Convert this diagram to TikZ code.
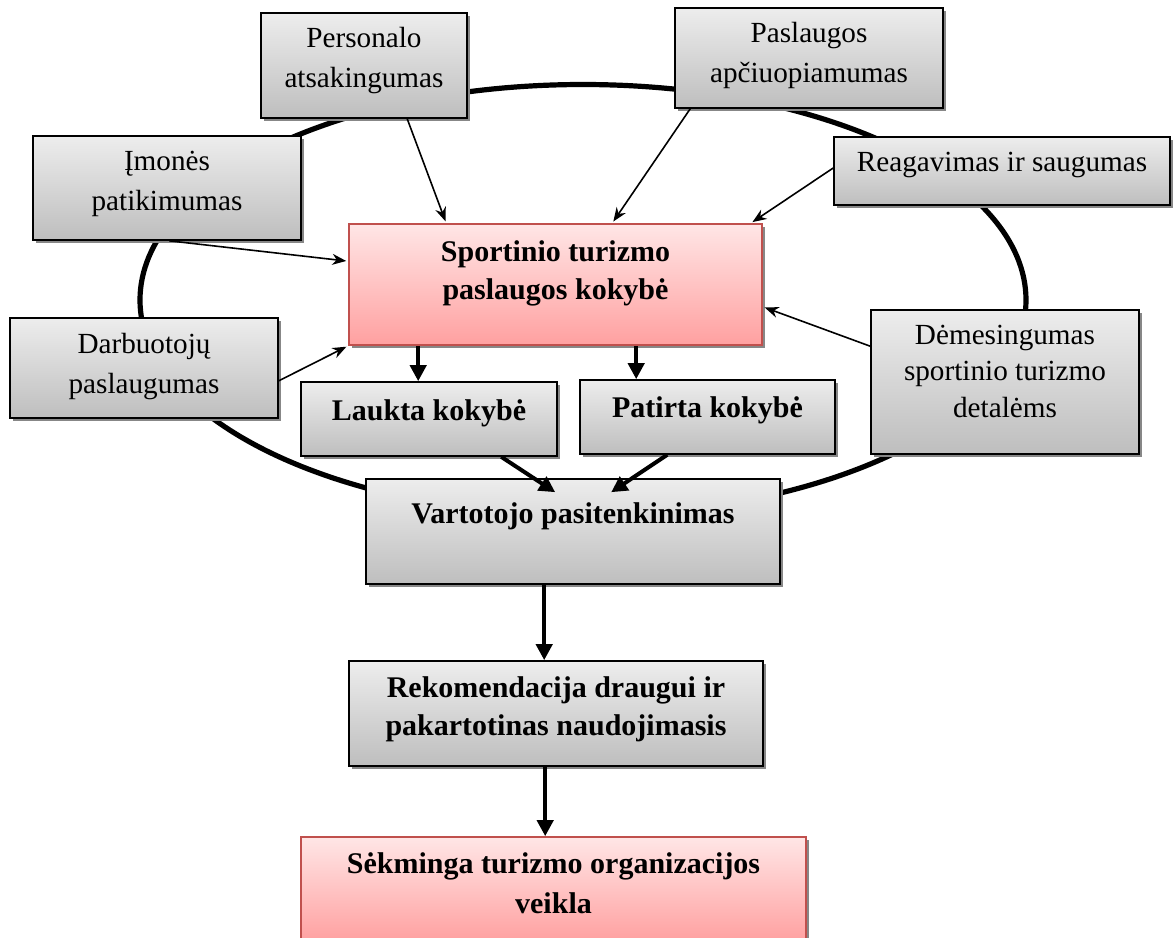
\documentclass[tikz,border=0pt]{standalone}
\usepackage{fontspec}
\setmainfont{Liberation Serif}
\usetikzlibrary{arrows.meta,shadows,calc}
\definecolor{boxtop}{RGB}{237,237,237}
\definecolor{boxbot}{RGB}{190,190,190}
\definecolor{pinktop}{RGB}{255,230,230}
\definecolor{pinkbot}{RGB}{255,160,160}
\definecolor{pinkline}{RGB}{192,80,77}
\definecolor{shadowgray}{RGB}{135,135,135}
\begin{document}
\begin{tikzpicture}[x=0.5pt,y=-0.5pt,
  graybox/.style={draw=black, line width=0.8pt, top color=boxtop, bottom color=boxbot,
    inner sep=0pt, general shadow={fill=shadowgray, shadow xshift=1.6pt, shadow yshift=-1.6pt}},
  pinkbox/.style={draw=pinkline, line width=0.8pt, top color=pinktop, bottom color=pinkbot,
    inner sep=0pt, general shadow={fill=shadowgray, shadow xshift=1.6pt, shadow yshift=-1.6pt}},
  % multi-line texts are anchored at the baseline of their last line
  plain/.style={anchor=base, align=center, inner sep=0pt, font=\fontsize{14.6}{19.75}\selectfont},
  strong/.style={anchor=base, align=center, inner sep=0pt, font=\fontsize{15}{19}\selectfont\bfseries},
  ring/.style={line width=2.6pt},
  link/.style={line width=0.8pt, shorten >=1pt, -{Stealth[length=7pt,width=5.5pt]}},
  flow/.style={line width=2pt, -{Triangle[length=8pt,width=8pt]}},
]
\useasboundingbox (0,0) rectangle (1174,938);

% the loop joining the service quality dimensions
\draw[ring] (583,300) ellipse [x radius=221.5pt, y radius=107.75pt];

% boxes
\node[graybox, minimum width=103pt,   minimum height=52.5pt] (pers) at (364,65.5) {};
\node[graybox, minimum width=134pt,   minimum height=50pt]   (pasl) at (809,58) {};
\node[graybox, minimum width=134pt,   minimum height=52pt]   (imon) at (167,188) {};
\node[graybox, minimum width=168pt,   minimum height=34pt]   (reag) at (1002,171) {};
\node[pinkbox, minimum width=206.5pt, minimum height=60.5pt] (sport) at (555.5,284.5) {};
\node[graybox, minimum width=134pt,   minimum height=50pt]   (darb) at (144,368) {};
\node[graybox, minimum width=128pt,   minimum height=37pt]   (laukta) at (429,419) {};
\node[graybox, minimum width=127.5pt, minimum height=37pt]   (patirta) at (707.5,417) {};
\node[graybox, minimum width=134pt,   minimum height=72pt]   (dem) at (1005,382) {};
\node[graybox, minimum width=207pt,   minimum height=52.5pt] (vart) at (573,531.5) {};
\node[graybox, minimum width=207pt,   minimum height=52.5pt] (rek) at (556,713.5) {};
\node[pinkbox, minimum width=252.5pt, minimum height=52.5pt] (sek) at (553.5,889.5) {};

% texts
\node[plain] (perst) at (364,87) {Personalo\\atsakingumas};
\node[plain] (paslt) at (809,82) {Paslaugos\\apčiuopiamumas};
\node[plain] (imont) at (167,210) {Įmonės\\patikimumas};
\node[plain] (reagt) at (1002,171) {Reagavimas ir saugumas};
\node[strong] (sportt) at (555.5,299) {Sportinio turizmo\\paslaugos kokybė};
\node[plain] (darbt) at (144,393) {Darbuotojų\\paslaugumas};
\node[strong] (lauktat) at (429,420) {Laukta kokybė};
\node[strong] (patirtat) at (707.5,417) {Patirta kokybė};
\node[plain, font=\fontsize{14.6}{18.2}\selectfont] (demt) at (1005,417) {Dėmesingumas\\sportinio turizmo\\detalėms};
\node[strong] (vartt) at (573,523) {Vartotojo pasitenkinimas};
\node[strong] (rekt) at (556,735) {Rekomendacija draugui ir\\pakartotinas naudojimasis};
\node[strong, font=\fontsize{15}{20}\selectfont\bfseries] (sekt) at (553.5,913) {Sėkminga turizmo organizacijos\\veikla};

% thin arrows into the quality box
\draw[link] ($(pers.south west)+(147,0)$) -- ($(sport.north west)+(98,0)$);
\draw[link] ($(pasl.south west)+(16,0)$) -- ($(sport.north west)+(264,0)$);
\draw[link] ($(reag.west)+(0,-3)$) -- ($(sport.north east)+(-12,0)$);
\draw[link] ($(imon.south west)+(137,0)$) -- ($(sport.north west)+(0,38)$);
\draw[link] ($(darb.south east)+(0,-38)$) -- (sport.south west);
\draw[link] ($(dem.north west)+(0,37)$) -- ($(sport.south east)+(0,-39)$);

% thick flow arrows
\draw[flow] ($(sport.south west)+(70,0)$) -- ($(laukta.north west)+(118,0)$);
\draw[flow] ($(sport.south west)+(288,0)$) -- ($(patirta.north west)+(57,0)$);
\draw[flow] ($(laukta.south west)+(201,0)$) -- ($(vart.north west)+(190,14)$);
\draw[flow] ($(patirta.south west)+(88,0)$) -- ($(vart.north west)+(246,14)$);
\draw[flow] ($(vart.south west)+(179,0)$) -- ($(rek.north west)+(196,0)$);
\draw[flow] ($(rek.south west)+(197,0)$) -- ($(sek.north west)+(245,0)$);
\end{tikzpicture}
\end{document}
